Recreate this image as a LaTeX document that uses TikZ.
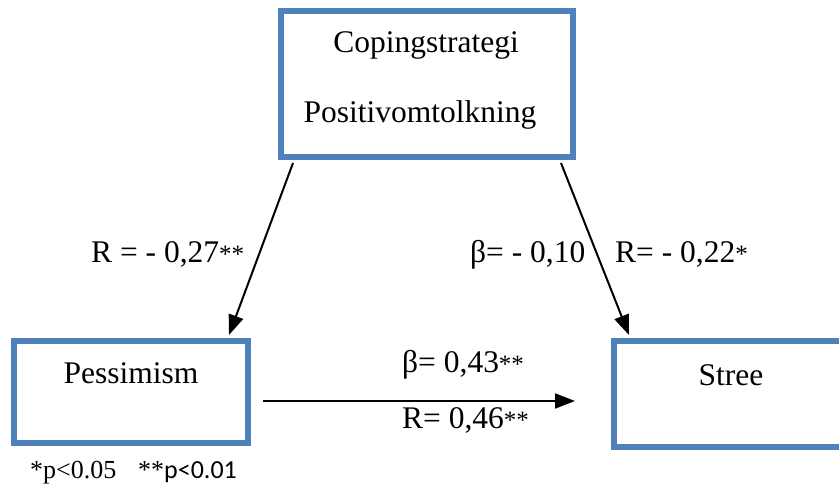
\documentclass[tikz,border=0pt]{standalone}
\usepackage{fontspec}
\setmainfont{Liberation Serif}
\newfontfamily\calfont{Carlito}
\usetikzlibrary{arrows.meta}
\definecolor{boxblue}{RGB}{79,129,189}
\tikzset{
  box/.style={draw=boxblue, line width=6pt, fill=white, inner sep=0pt},
  txt/.style={anchor=base, inner sep=0pt, font=\fontsize{31.5}{36}\selectfont},
  foot/.style={anchor=base west, inner sep=0pt, font=\fontsize{26}{30}\selectfont},
  conn/.style={line width=2pt, -{Triangle[length=20pt,width=15pt]}}
}
\newcommand{\sig}[1]{{\fontsize{25}{25}\selectfont #1}}
\begin{document}
\begin{tikzpicture}[x=1pt,y=-1pt]
\useasboundingbox (0,0) rectangle (839,487);
\node[box, minimum width=292pt, minimum height=146pt] (top) at (427,84) {};
\node[box, minimum width=234pt, minimum height=102pt] (pess) at (131,392) {};
\node[box, minimum width=231pt, minimum height=106pt] (stree) at (729.5,394) {};
\node[txt] (t1) at (426,53) {Copingstrategi};
\node[txt] (t2) at (420,122) {Positivomtolkning};
\node[txt] (t3) at (131,383) {Pessimism};
\node[txt] (t4) at (731,385) {Stree};
\coordinate (a1s) at (293,163);
\coordinate (a1e) at (229,335);
\coordinate (a2s) at (561,163);
\coordinate (a2e) at (629,335);
\coordinate (a3s) at (263,401);
\coordinate (a3e) at (575,401);
\draw[conn] (a1s) -- (a1e);
\draw[conn] (a2s) -- (a2e);
\draw[conn] (a3s) -- (a3e);
\node[txt, anchor=base west] (l1) at (91,262) {R = - 0,27\sig{**}};
\node[txt, anchor=base west] (l2) at (470,262) {β= - 0,10};
\node[txt, anchor=base west] (l3) at (615,262) {R= - 0,22\sig{*}};
\node[txt, anchor=base west] (l4) at (402,372) {β= 0,43\sig{**}};
\node[txt, anchor=base west] (l5) at (402,428) {R= 0,46\sig{**}};
\node[foot] (f1) at (30,478) {*p<0.05};
\node[foot] (f2) at (138,478) {**{\calfont p<0.01}};
\end{tikzpicture}
\end{document}
